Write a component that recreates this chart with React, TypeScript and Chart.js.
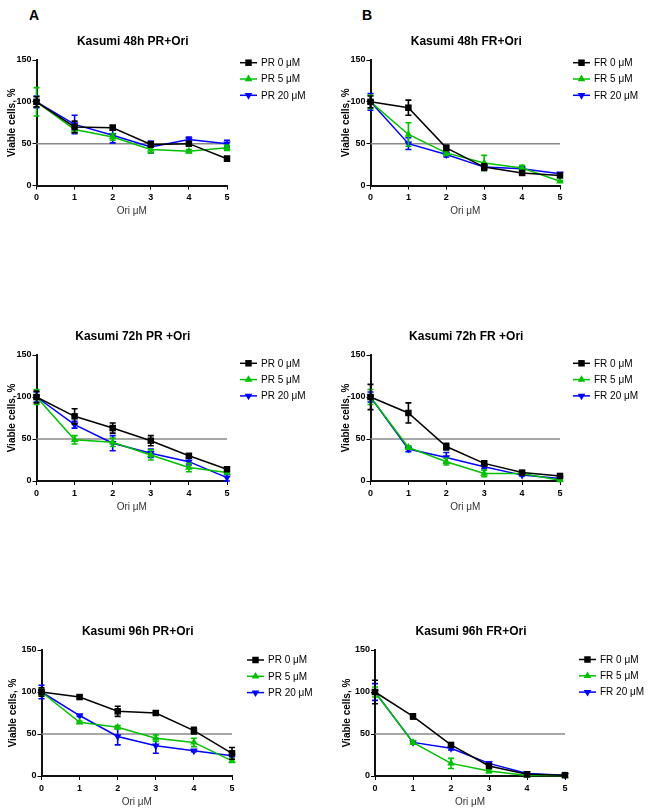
import React, { useEffect, useRef } from 'react';
import { Chart, registerables } from 'chart.js';

Chart.register(...registerables);

const FONT = "'Liberation Sans', Arial, sans-serif";

// ---------- data ----------
const doses = [0, 1, 2, 3, 4, 5];
const levels = ['0', '5', '20'];

// 48h PR
const pr48_0 = [100, 70, 69, 49, 50, 32];
const pr48_0e = [6, 7, 3, 3, 2, 3];
const pr48_5 = [100, 67, 58, 43, 41, 45];
const pr48_5e = [17, 4, 4, 4, 2, 3];
const pr48_20 = [100, 73, 60, 46, 55, 50];
const pr48_20e = [7, 11, 9, 7, 3, 4];

// 48h FR
const fr48_0 = [100, 93, 45, 22, 15, 12];
const fr48_0e = [7, 9, 3, 4, 2, 2];
const fr48_5 = [100, 61, 39, 27, 21, 5];
const fr48_5e = [8, 14, 3, 9, 3, 1];
const fr48_20 = [100, 50, 37, 22, 20, 14];
const fr48_20e = [10, 7, 3, 2, 2, 1];

// 72h PR
const pr72_0 = [100, 77, 63, 48, 30, 14];
const pr72_0e = [7, 9, 6, 6, 2, 2];
const pr72_5 = [100, 49, 46, 31, 16, 10];
const pr72_5e = [9, 5, 5, 6, 5, 1];
const pr72_20 = [100, 67, 45, 33, 23, 4];
const pr72_20e = [6, 4, 9, 5, 4, 4];

// 72h FR
const fr72_0 = [100, 81, 41, 21, 10, 6];
const fr72_0e = [15, 12, 4, 3, 1, 1];
const fr72_5 = [100, 40, 23, 9, 9, 1];
const fr72_5e = [9, 2, 4, 4, 1, 1];
const fr72_20 = [100, 38, 28, 17, 7, 3];
const fr72_20e = [6, 3, 6, 2, 1, 1];

// 96h PR
const pr96_0 = [100, 94, 77, 75, 54, 27];
const pr96_0e = [5, 2, 6, 2, 4, 7];
const pr96_5 = [100, 64, 58, 45, 40, 18];
const pr96_5e = [4, 1, 2, 4, 5, 2];
const pr96_20 = [100, 72, 47, 36, 30, 24];
const pr96_20e = [8, 1, 10, 9, 1, 1];

// 96h FR
const fr96_0 = [100, 71, 37, 12, 2, 1];
const fr96_0e = [14, 3, 2, 2, 1, 0];
const fr96_5 = [100, 40, 15, 6, 0.5, 0.5];
const fr96_5e = [6, 2, 6, 2, 0, 0];
const fr96_20 = [100, 40, 33, 15, 3, 1];
const fr96_20e = [10, 1, 2, 2, 1, 0];

const refLevel = 50;
const yTicks = [0, 50, 100, 150];

// ---------- styles ----------
const COLORS = ['#000000', '#00c000', '#0000ff'];
const MARKERS = [
  { style: 'rect', rot: 0, r: 4.6 },
  { style: 'triangle', rot: 0, r: 4.4 },
  { style: 'triangle', rot: 180, r: 4.4 },
];

type Box = { cl: number; ct: number; cw: number; ch: number; L: number; R: number; T: number; B: number; ldx: number; ldy: number; yto: number };

const panels = [
  { title: 'Kasumi 48h PR+Ori', prefix: 'PR', series: [pr48_0, pr48_5, pr48_20], errors: [pr48_0e, pr48_5e, pr48_20e],
    box: { cl: 0, ct: 20, cw: 325, ch: 230, L: 36.5, R: 227, T: 60, B: 185.5, ldx: 13, ldy: 2.7, yto: 24 } },
  { title: 'Kasumi 48h FR+Ori', prefix: 'FR', series: [fr48_0, fr48_5, fr48_20], errors: [fr48_0e, fr48_5e, fr48_20e],
    box: { cl: 325, ct: 20, cw: 325, ch: 230, L: 370.5, R: 560, T: 60, B: 185.5, ldx: 13, ldy: 2.7, yto: 24 } },
  { title: 'Kasumi 72h PR +Ori', prefix: 'PR', series: [pr72_0, pr72_5, pr72_20], errors: [pr72_0e, pr72_5e, pr72_20e],
    box: { cl: 0, ct: 315, cw: 325, ch: 230, L: 36.5, R: 227, T: 355, B: 481, ldx: 13, ldy: 8.3, yto: 24 } },
  { title: 'Kasumi 72h FR +Ori', prefix: 'FR', series: [fr72_0, fr72_5, fr72_20], errors: [fr72_0e, fr72_5e, fr72_20e],
    box: { cl: 325, ct: 315, cw: 325, ch: 230, L: 370.5, R: 560, T: 355, B: 481, ldx: 13, ldy: 8.3, yto: 24 } },
  { title: 'Kasumi 96h PR+Ori', prefix: 'PR', series: [pr96_0, pr96_5, pr96_20], errors: [pr96_0e, pr96_5e, pr96_20e],
    box: { cl: 0, ct: 610, cw: 325, ch: 201, L: 41.5, R: 232, T: 650, B: 776, ldx: 15, ldy: 10, yto: 28 } },
  { title: 'Kasumi 96h FR+Ori', prefix: 'FR', series: [fr96_0, fr96_5, fr96_20], errors: [fr96_0e, fr96_5e, fr96_20e],
    box: { cl: 325, ct: 610, cw: 325, ch: 201, L: 375, R: 565, T: 650, B: 776, ldx: 14, ldy: 9.5, yto: 28 } },
];

function drawMarker(ctx: CanvasRenderingContext2D, idx: number, x: number, y: number) {
  const m = MARKERS[idx];
  ctx.save();
  ctx.fillStyle = COLORS[idx];
  ctx.beginPath();
  if (m.style === 'rect') {
    const s = m.r * Math.SQRT1_2;
    ctx.rect(x - s, y - s, 2 * s, 2 * s);
  } else {
    const dir = m.rot === 180 ? -1 : 1;
    const r = m.r;
    ctx.moveTo(x, y - dir * r);
    ctx.lineTo(x + r * Math.sin((2 * Math.PI) / 3), y + dir * r * 0.5);
    ctx.lineTo(x - r * Math.sin((2 * Math.PI) / 3), y + dir * r * 0.5);
    ctx.closePath();
  }
  ctx.fill();
  ctx.restore();
}

const decor = {
  id: 'decor',
  afterDatasetDraw(chart: any, args: any) {
    const ds = chart.data.datasets[args.index];
    if (!ds.errors) return;
    const ctx = chart.ctx;
    const xs = chart.scales.x;
    const ys = chart.scales.y;
    ctx.save();
    ctx.strokeStyle = ds.borderColor;
    ctx.lineWidth = 1.6;
    ds.data.forEach((p: any, j: number) => {
      const e = ds.errors[j];
      if (!e) return;
      const x = xs.getPixelForValue(p.x);
      const y1 = ys.getPixelForValue(p.y + e);
      const y2 = ys.getPixelForValue(Math.max(0, p.y - e));
      ctx.beginPath();
      ctx.moveTo(x, y1);
      ctx.lineTo(x, y2);
      ctx.moveTo(x - 3, y1);
      ctx.lineTo(x + 3, y1);
      ctx.moveTo(x - 3, y2);
      ctx.lineTo(x + 3, y2);
      ctx.stroke();
    });
    ctx.restore();
  },
  afterDraw(chart: any, _args: any, opts: any) {
    const ctx = chart.ctx;
    const a = chart.chartArea;
    const cx = (a.left + a.right) / 2;
    ctx.save();
    // title
    ctx.fillStyle = '#000';
    ctx.font = `bold 12px ${FONT}`;
    ctx.textAlign = 'center';
    ctx.textBaseline = 'middle';
    ctx.fillText(opts.title, cx + 1, a.top - 18.5);
    // y axis title
    ctx.save();
    ctx.translate(a.left - opts.yto, (a.top + a.bottom) / 2);
    ctx.rotate(-Math.PI / 2);
    ctx.font = `bold 10px ${FONT}`;
    ctx.fillText('Viable cells, %', 0, 0);
    ctx.restore();
    // x axis title
    ctx.font = `10px ${FONT}`;
    ctx.fillStyle = '#333';
    ctx.fillText('Ori \u03bcM', cx, a.bottom + 26);
    // legend
    const lx = a.right + opts.ldx;
    chart.data.datasets.forEach((ds: any, i: number) => {
      if (!ds.errors) return;
      const ly = a.top + opts.ldy + i * 16.3;
      ctx.strokeStyle = COLORS[i];
      ctx.lineWidth = 1.5;
      ctx.beginPath();
      ctx.moveTo(lx, ly);
      ctx.lineTo(lx + 17, ly);
      ctx.stroke();
      drawMarker(ctx, i, lx + 8.5, ly);
      ctx.fillStyle = '#000';
      ctx.font = `10px ${FONT}`;
      ctx.textAlign = 'left';
      ctx.fillText(ds.label, lx + 21, ly + 0.5);
    });
    ctx.restore();
  },
};

function Panel({ cfg }: { cfg: any }) {
  const ref = useRef<HTMLCanvasElement>(null);
  useEffect(() => {
    const b: Box = cfg.box;
    const YW = 30;
    const XH = 30;
    const datasets: any[] = cfg.series.map((s: number[], i: number) => ({
      label: `${cfg.prefix} ${levels[i]} \u03bcM`,
      data: doses.map((d, j) => ({ x: d, y: s[j] })),
      errors: cfg.errors[i],
      borderColor: COLORS[i],
      backgroundColor: COLORS[i],
      borderWidth: 1.5,
      pointStyle: MARKERS[i].style,
      pointRotation: MARKERS[i].rot,
      pointRadius: MARKERS[i].r,
      pointBorderWidth: 0,
      tension: 0,
      clip: false,
      order: i,
    }));
    datasets.push({
      label: 'ref',
      data: [{ x: doses[0], y: refLevel }, { x: doses[doses.length - 1], y: refLevel }],
      borderColor: '#8a8a8a',
      borderWidth: 1.5,
      pointRadius: 0,
      clip: false,
      order: 10,
    });
    const chart = new Chart(ref.current as HTMLCanvasElement, {
      type: 'line',
      data: { datasets },
      options: {
        animation: false,
        responsive: false,
        events: [],
        layout: {
          padding: {
            left: b.L - b.cl - YW,
            right: b.cl + b.cw - b.R,
            top: b.T - b.ct,
            bottom: b.ct + b.ch - b.B - XH,
          },
        },
        plugins: {
          legend: { display: false },
          title: { display: false },
          tooltip: { enabled: false },
          decor: { title: cfg.title, ldx: b.ldx, ldy: b.ldy, yto: b.yto },
        } as any,
        scales: {
          x: {
            type: 'linear',
            min: 0,
            max: 5,
            afterFit: (s: any) => { s.height = XH; },
            ticks: { stepSize: 1, color: '#000', padding: 3, font: { family: FONT, size: 9, weight: 'bold' } },
            grid: { drawOnChartArea: false, drawTicks: true, tickLength: 4, color: '#000', lineWidth: 1 },
            border: { display: true, color: '#111', width: 2 },
          },
          y: {
            type: 'linear',
            min: 0,
            max: 150,
            afterFit: (s: any) => { s.width = YW; },
            afterBuildTicks: (s: any) => { s.ticks = yTicks.map((v) => ({ value: v })); },
            ticks: { color: '#000', padding: 1, font: { family: FONT, size: 9, weight: 'bold' } },
            grid: { drawOnChartArea: false, drawTicks: true, tickLength: 4, color: '#000', lineWidth: 1 },
            border: { display: true, color: '#111', width: 2 },
          },
        },
      } as any,
      plugins: [decor],
    });
    return () => chart.destroy();
  }, [cfg]);
  const b: Box = cfg.box;
  return (
    <canvas
      ref={ref}
      width={b.cw}
      height={b.ch}
      style={{ position: 'absolute', left: b.cl, top: b.ct, width: b.cw, height: b.ch }}
    />
  );
}

export default function App() {
  return (
    <div style={{ position: 'absolute', left: 0, top: 0, width: 650, height: 811, background: '#fff', overflow: 'hidden' }}>
      <div style={{ position: 'absolute', left: 29, top: 7, font: `bold 14px ${FONT}` }}>A</div>
      <div style={{ position: 'absolute', left: 362, top: 7, font: `bold 14px ${FONT}` }}>B</div>
      {panels.map((p, i) => (
        <Panel key={i} cfg={p} />
      ))}
    </div>
  );
}
